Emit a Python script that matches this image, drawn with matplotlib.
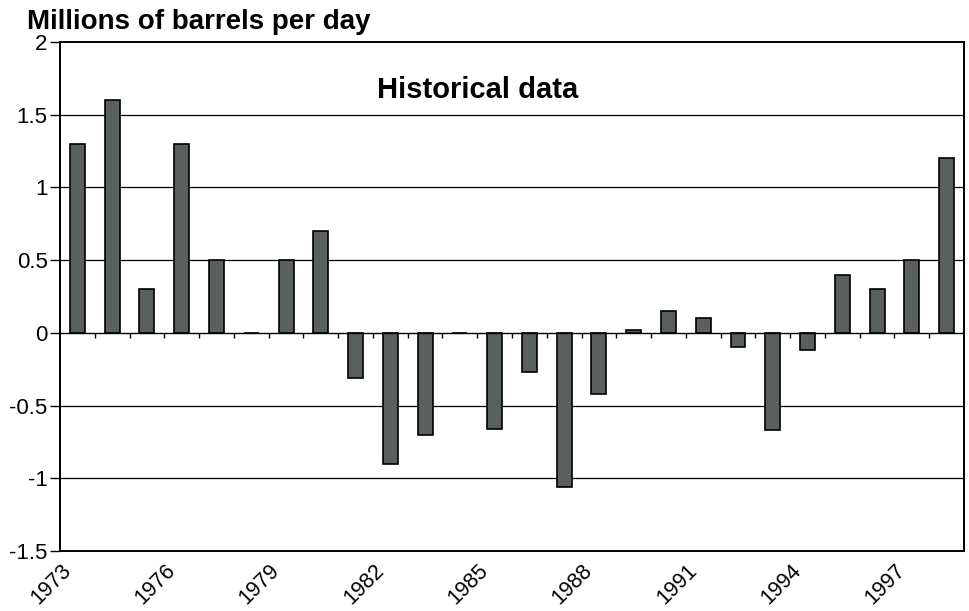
import numpy as np
import matplotlib
matplotlib.use('Agg')
import matplotlib.pyplot as plt

# yearly change, millions of barrels per day
years = list(range(1973, 1999))
change = [1.30, 1.60, 0.30, 1.30, 0.50, 0.0, 0.50, 0.70, -0.31, -0.90,
          -0.70, 0.0, -0.66, -0.27, -1.06, -0.42, 0.02, 0.15, 0.10, -0.10,
          -0.67, -0.12, 0.40, 0.30, 0.50, 1.20]
label_years = [1973, 1976, 1979, 1982, 1985, 1988, 1991, 1994, 1997]
y_ticks = [-1.5, -1, -0.5, 0, 0.5, 1, 1.5, 2]
y_labels = ['-1.5', '-1', '-0.5', '0', '0.5', '1', '1.5', '2']

plt.rcParams['font.family'] = ['Liberation Sans', 'DejaVu Sans']

fig = plt.figure(figsize=(9.7, 6.11), dpi=100)
ax = fig.add_axes([0.0619, 0.0982, 0.9319, 0.8331])

x = np.arange(len(years))
ax.bar(x, change, width=0.43, color='#5a605d', edgecolor='black', linewidth=1.2, zorder=3)

ax.set_xlim(-0.5, len(years) - 0.5)
ax.set_ylim(-1.5, 2)
ax.set_yticks(y_ticks)
ax.set_yticklabels(y_labels, fontsize=16)
ax.tick_params(axis='y', direction='out', length=7, width=1, pad=2)

for v in [-1, -0.5, 0.5, 1, 1.5]:
    ax.axhline(v, color='black', linewidth=0.9, zorder=1)

# zero line with small ticks at category boundaries
ax.axhline(0, color='black', linewidth=1.0, zorder=4)
ax.vlines(np.arange(0.5, len(years) - 0.5, 1.0), -0.035, 0, color='black',
          linewidth=1.0, zorder=4)

# category labels at bottom
ax.set_xticks([years.index(y) - 0.27 for y in label_years])
ax.set_xticklabels([str(y) for y in label_years], rotation=45, ha='right',
                   va='center', rotation_mode='anchor', fontsize=15.5)
ax.tick_params(axis='x', length=0, pad=12)

for s in ax.spines.values():
    s.set_linewidth(1.4)

ax.text(0.462, 0.905, 'Historical data', transform=ax.transAxes,
        ha='center', va='center', fontsize=21, fontweight='bold')
fig.text(0.028, 0.9525, 'Millions of barrels per day', ha='left', va='baseline',
         fontsize=20, fontweight='bold')

fig.savefig('out.png', dpi=100)
